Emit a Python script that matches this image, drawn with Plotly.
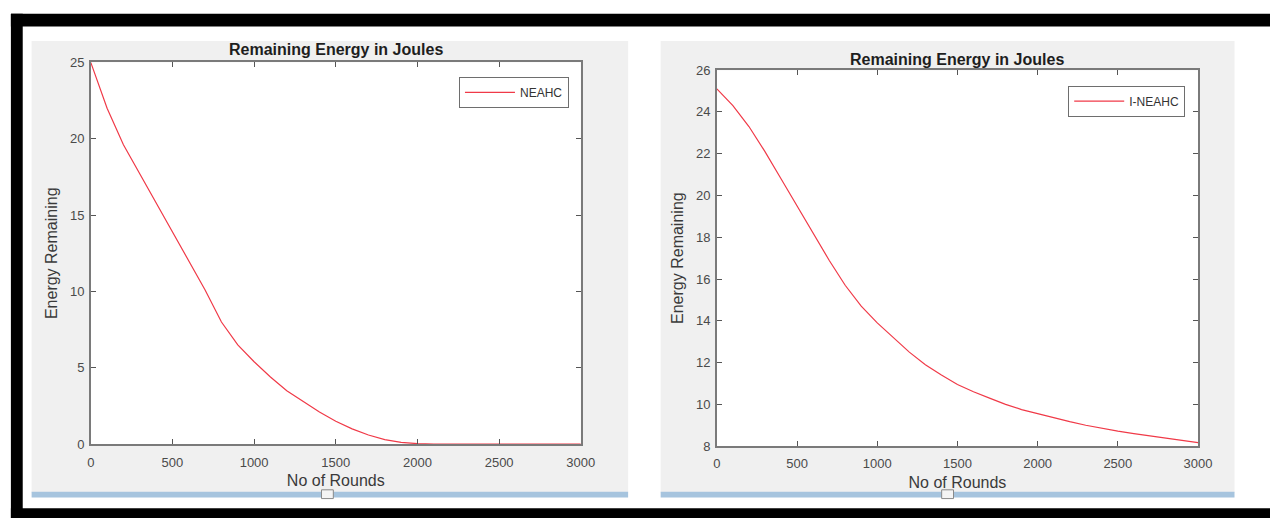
import plotly.graph_objects as go

# ---------------- data ----------------
rounds_neahc = [0, 100, 200, 300, 400, 500, 600, 700, 800, 900, 1000, 1100, 1200,
                1300, 1400, 1500, 1600, 1700, 1800, 1900, 2000, 2100, 2200, 2400,
                2600, 2800, 3000]
energy_neahc = [25.0, 22.0, 19.6, 17.7, 15.8, 13.9, 12.0, 10.1, 8.0, 6.5, 5.4, 4.4, 3.5,
                2.8, 2.1, 1.5, 1.0, 0.6, 0.3, 0.12, 0.03, 0.0, 0.0, 0.0,
                0.0, 0.0, 0.0]

rounds_ineahc = [0, 100, 200, 300, 400, 500, 600, 700, 800, 900, 1000, 1100, 1200,
                 1300, 1400, 1500, 1600, 1700, 1800, 1900, 2000, 2100, 2200, 2300,
                 2400, 2500, 2600, 2700, 2800, 2900, 3000]
energy_ineahc = [25.1, 24.3, 23.3, 22.1, 20.8, 19.5, 18.2, 16.9, 15.7, 14.7, 13.9, 13.2,
                 12.5, 11.9, 11.4, 10.95, 10.6, 10.3, 10.0, 9.75, 9.55, 9.35, 9.17, 9.0,
                 8.85, 8.72, 8.6, 8.48, 8.37, 8.27, 8.17]

x_ticks = [0, 500, 1000, 1500, 2000, 2500, 3000]
y_ticks_left = [0, 5, 10, 15, 20, 25]
y_ticks_right = [8, 10, 12, 14, 16, 18, 20, 22, 24, 26]

title_text = "Remaining Energy in Joules"
x_title = "No of Rounds"
y_title = "Energy Remaining"

# ---------------- layout helpers ----------------
W, H = 1284, 526
FONT = "Liberation Sans, Arial, sans-serif"
RED = "#f03a48"


def px(p):
    return p / W


def py(p):
    return 1 - p / H


def rect(x0, y0, x1, y1, fill, line=None, lw=0):
    return dict(type="rect", xref="paper", yref="paper",
                x0=px(x0), x1=px(x1), y0=py(y1), y1=py(y0),
                fillcolor=fill, line=dict(color=line or fill, width=lw),
                layer="below")


fig = go.Figure()
fig.add_trace(go.Scatter(x=rounds_neahc, y=energy_neahc, mode="lines", name="NEAHC",
                         line=dict(color=RED, width=1.2), xaxis="x", yaxis="y",
                         legend="legend"))
fig.add_trace(go.Scatter(x=rounds_ineahc, y=energy_ineahc, mode="lines", name="I-NEAHC",
                         line=dict(color=RED, width=1.2), xaxis="x2", yaxis="y2",
                         legend="legend2"))

axis_common = dict(showline=True, linecolor="#7a7a7a", linewidth=1.5, mirror="ticks",
                   ticks="inside", ticklen=5, tickwidth=1, tickcolor="#555555",
                   showgrid=False, zeroline=False, fixedrange=True,
                   tickfont=dict(family=FONT, size=13, color="#4a4a4a"),
                   title_font=dict(family=FONT, size=16, color="#3a3a3a"))

shapes = [
    # black frame (top, left, bottom)
    rect(7, 7, W, 20, "black"),
    rect(7, 7, 19, H, "black"),
    rect(7, 516, W, H, "black"),
    # grey figure panels
    rect(28, 35, 633, 500, "#f0f0f0"),
    rect(666, 35, 1248, 500, "#f0f0f0"),
    # blue window bars
    rect(28, 499, 633, 505, "#a6c4de"),
    rect(666, 499, 1248, 505, "#a6c4de"),
    # small handle icons
    rect(322, 497, 334, 506, "#f4f4f4", "#8a8a8a", 1),
    rect(951, 497, 963, 506, "#f4f4f4", "#8a8a8a", 1),
    # white plot areas
    rect(88, 57, 585, 450, "white"),
    rect(723, 65, 1211, 452, "white"),
]

annotations = [
    dict(text="<b>" + title_text + "</b>", xref="paper", yref="paper",
         x=px(336.5), y=py(44), xanchor="center", yanchor="middle", showarrow=False,
         font=dict(family=FONT, size=16, color="#1e1e1e")),
    dict(text="<b>" + title_text + "</b>", xref="paper", yref="paper",
         x=px(967), y=py(54), xanchor="center", yanchor="middle", showarrow=False,
         font=dict(family=FONT, size=16, color="#1e1e1e")),
]

legend_common = dict(bgcolor="white", bordercolor="#6e6e6e", borderwidth=1,
                     font=dict(family=FONT, size=12, color="#333333"),
                     xanchor="right", yanchor="top", xref="paper", yref="paper",
                     itemwidth=50)

fig.update_layout(
    width=W, height=H, autosize=False,
    margin=dict(l=0, r=0, t=0, b=0),
    paper_bgcolor="white", plot_bgcolor="white",
    showlegend=True,
    xaxis=dict(axis_common, domain=[px(88), px(585)], range=[0, 3000],
               tickvals=x_ticks, anchor="y", title=dict(text=x_title, standoff=6),
               ticklabelstandoff=5),
    yaxis=dict(axis_common, domain=[py(450), py(57)], range=[0, 25],
               tickvals=y_ticks_left, anchor="x", title=dict(text=y_title, standoff=8),
               ticklabelstandoff=2),
    xaxis2=dict(axis_common, domain=[px(723), px(1211)], range=[0, 3000],
                tickvals=x_ticks, anchor="y2", title=dict(text=x_title, standoff=6),
                ticklabelstandoff=5),
    yaxis2=dict(axis_common, domain=[py(452), py(65)], range=[8, 26],
                tickvals=y_ticks_right, anchor="x2", title=dict(text=y_title, standoff=8),
                ticklabelstandoff=2),
    legend=dict(legend_common, x=px(573), y=py(72)),
    legend2=dict(legend_common, x=px(1198), y=py(81)),
    shapes=shapes,
    annotations=annotations,
)

fig.write_html(
    "out.html",
    config={"displayModeBar": False},
    post_script="document.body.style.margin='0';document.body.style.overflow='hidden';",
)
